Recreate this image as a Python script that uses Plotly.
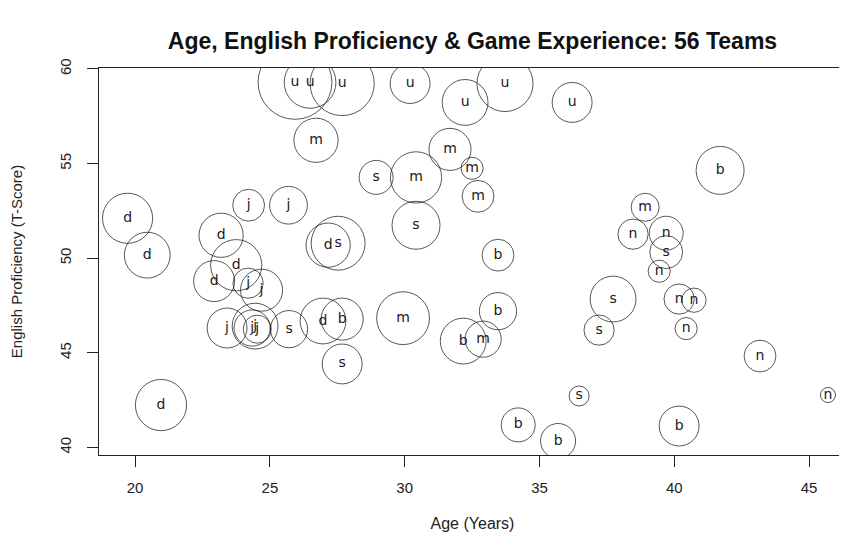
import plotly.graph_objects as go

# ---- data ----
groups = ["u"] * 7 + ["m"] * 8 + ["s"] * 9 + ["b"] * 8 + ["n"] * 8 + ["d"] * 8 + ["j"] * 8

age = [
    # u
    25.93, 26.49, 27.68, 30.20, 32.24, 33.72, 36.21,
    # m
    26.71, 31.68, 32.50, 32.72, 30.42, 29.94, 32.91, 38.92,
    # s
    28.94, 30.42, 27.53, 25.71, 27.68, 39.70, 37.73, 37.21, 36.47,
    # b
    33.46, 41.70, 33.46, 32.17, 27.68, 34.21, 35.69, 40.18,
    # n
    38.47, 39.70, 39.44, 40.18, 40.73, 40.44, 43.18, 45.70,
    # d
    19.72, 20.45, 23.19, 23.75, 22.93, 27.16, 26.97, 20.96,
    # j
    24.21, 25.69, 24.19, 24.69, 23.41, 24.45, 24.53, 24.34,
]

english = [
    # u
    59.29, 59.29, 59.23, 59.23, 58.23, 59.23, 58.23,
    # m
    56.23, 55.75, 54.75, 53.27, 54.27, 46.83, 45.72, 52.69,
    # s
    54.27, 51.74, 50.79, 46.25, 44.41, 50.32, 47.84, 46.20, 42.72,
    # b
    50.16, 54.64, 47.20, 45.62, 46.78, 41.19, 40.34, 41.13,
    # n
    51.27, 51.32, 49.31, 47.84, 47.78, 46.28, 44.83, 42.77,
    # d
    52.11, 50.16, 51.21, 49.63, 48.79, 50.69, 46.68, 42.24,
    # j
    52.80, 52.80, 48.68, 48.31, 46.31, 46.41, 46.25, 46.31,
]

# game experience, expressed as circle radius in x-axis (age) units
experience = [
    # u
    1.37, 0.96, 1.19, 0.74, 0.85, 1.04, 0.74,
    # m
    0.82, 0.78, 0.41, 0.59, 0.95, 0.98, 0.67, 0.52,
    # s
    0.63, 0.89, 1.00, 0.69, 0.74, 0.61, 0.85, 0.56, 0.37,
    # b
    0.59, 0.89, 0.69, 0.85, 0.78, 0.63, 0.65, 0.74,
    # n
    0.56, 0.63, 0.41, 0.56, 0.45, 0.41, 0.59, 0.28,
    # d
    0.93, 0.85, 0.82, 0.95, 0.76, 0.82, 0.85, 0.95,
    # j
    0.59, 0.70, 0.56, 0.78, 0.74, 0.85, 0.52, 0.67,
]

x_ticks = [20, 25, 30, 35, 40, 45]
y_ticks = [40, 45, 50, 55, 60]

# ---- layout geometry (page body has an 8px default offset) ----
W, H = 847, 553
M = dict(l=91, r=9, t=60, b=106)
x_range = [18.66, 46.37]
y_range = [39.6, 60.05]
px_per_x = (W - M["l"] - M["r"]) / (x_range[1] - x_range[0])
sizes = [2 * r * px_per_x for r in experience]

fig = go.Figure()
fig.add_trace(go.Scatter(
    x=age, y=english, mode="markers+text",
    text=groups, textposition="middle center",
    textfont=dict(family="DejaVu Sans", size=14, color="#1a1a1a"),
    marker=dict(symbol="circle-open", size=sizes, sizemode="diameter",
                color="#111111", line=dict(width=1, color="#111111")),
    cliponaxis=True, showlegend=False, hoverinfo="skip",
))

axis_font = dict(family="Liberation Sans, Arial", size=15, color="#222222")
fig.update_layout(
    width=W, height=H, margin=M,
    paper_bgcolor="white", plot_bgcolor="white",
    title=dict(text="<b>Age, English Proficiency & Game Experience: 56 Teams</b>",
               x=0.5, xref="paper", xanchor="center",
               y=1 - 33 / H, yanchor="middle", yref="container", automargin=False,
               font=dict(family="Liberation Sans, Arial", size=23, color="#111111")),
    xaxis=dict(range=x_range, tickvals=x_ticks, ticks="outside", ticklen=11,
               tickcolor="#222222", tickfont=axis_font, showgrid=False, zeroline=False,
               showline=True, linecolor="#222222", linewidth=1, mirror=True,
               ticklabelstandoff=8, automargin=False,
               title=dict(text="Age (Years)", standoff=22,
                          font=dict(family="Liberation Sans, Arial", size=16, color="#222222"))),
    yaxis=dict(range=y_range, tickvals=y_ticks, ticks="outside", ticklen=11,
               tickcolor="#222222", tickfont=axis_font, tickangle=-90,
               showgrid=False, zeroline=False,
               showline=True, linecolor="#222222", linewidth=1, mirror=True,
               ticklabelstandoff=10, automargin=False,
               title=dict(text="English Proficiency (T-Score)", standoff=31,
                          font=dict(family="Liberation Sans, Arial", size=15, color="#222222"))),
)

fig.write_html("out.html")
